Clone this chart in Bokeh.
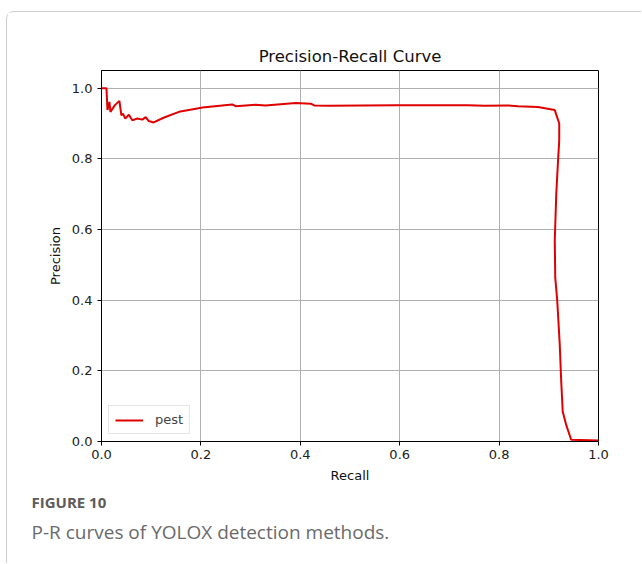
from bokeh.plotting import figure
from bokeh.models import Range1d, FixedTicker, NumeralTickFormatter, Title, Legend, LegendItem
from bokeh.embed import file_html
from bokeh.resources import INLINE

# data
recall = [0.0, 0.01, 0.012, 0.016, 0.018, 0.027, 0.036, 0.040, 0.043, 0.048, 0.055, 0.062,
          0.072, 0.082, 0.089, 0.095, 0.105, 0.126, 0.156, 0.19, 0.203, 0.263, 0.27, 0.31,
          0.33, 0.391, 0.421, 0.428, 0.458, 0.593, 0.737, 0.771, 0.818, 0.838, 0.878, 0.912,
          0.921, 0.921, 0.919, 0.915, 0.912, 0.913, 0.917, 0.922, 0.925, 0.928, 0.935, 0.945, 1.0]
precision = [1.0, 1.0, 0.938, 0.961, 0.933, 0.952, 0.964, 0.923, 0.928, 0.914, 0.925, 0.909,
             0.914, 0.911, 0.918, 0.907, 0.903, 0.917, 0.933, 0.942, 0.945, 0.954, 0.949, 0.953,
             0.951, 0.958, 0.956, 0.951, 0.950, 0.952, 0.952, 0.950, 0.951, 0.949, 0.947, 0.938,
             0.90, 0.852, 0.805, 0.70, 0.568, 0.464, 0.398, 0.275, 0.170, 0.085, 0.047, 0.005, 0.003]
ticks = [0.0, 0.2, 0.4, 0.6, 0.8, 1.0]
series_name = "pest"
title_text = "Precision-Recall Curve"
x_label = "Recall"
y_label = "Precision"
fig_label = "FIGURE 10"
caption = "P-R curves of YOLOX detection methods."

FONT = "DejaVu Sans"

p = figure(width=635, height=552, output_backend="svg", toolbar_location=None,
           x_range=Range1d(0, 1.0), y_range=Range1d(0, 1.05),
           min_border_left=94, min_border_right=44, min_border_top=58, min_border_bottom=123)
p.margin = (11, 0, 0, 6)
p.styles = {"border-left": "1px solid #cdcdcd", "border-top": "1px solid #cdcdcd",
            "border-top-left-radius": "8px"}

p.title.text = title_text
p.title.text_font = FONT
p.title.text_font_size = "16.5px"
p.title.text_font_style = "normal"
p.title.align = "center"
p.title.text_color = "#111111"

for ax in (p.xaxis, p.yaxis):
    ax.ticker = FixedTicker(ticks=ticks)
    ax.formatter = NumeralTickFormatter(format="0.0")
    ax.major_label_text_font = FONT
    ax.major_label_text_font_size = "13px"
    ax.major_label_text_color = "#222222"
    ax.axis_label_text_font = FONT
    ax.axis_label_text_font_size = "13px"
    ax.axis_label_text_font_style = "normal"
    ax.axis_label_text_color = "#111111"
    ax.axis_line_color = "black"
    ax.major_tick_line_color = "black"
    ax.major_tick_in = 0
    ax.major_tick_out = 4
    ax.minor_tick_line_color = None
p.xaxis.axis_label = x_label
p.yaxis.axis_label = y_label
p.xaxis.major_label_standoff = 4
p.yaxis.major_label_standoff = 5
p.xaxis.axis_label_standoff = 6
p.yaxis.axis_label_standoff = 6

p.grid.grid_line_color = "#b0b0b0"
p.grid.grid_line_width = 1
p.outline_line_color = "black"
p.outline_line_alpha = 1.0

r = p.line(recall, precision, line_color="#e00000", line_width=2)

legend = Legend(items=[LegendItem(label=series_name, renderers=[r])], location="bottom_left")
legend.margin = 7
legend.padding = 6
legend.glyph_width = 28
legend.glyph_height = 12
legend.label_height = 12
legend.label_standoff = 12
legend.label_text_font = FONT
legend.label_text_font_size = "13px"
legend.border_line_color = "#cccccc"
legend.background_fill_alpha = 0.8
p.add_layout(legend)

# caption below the chart
t1 = Title(text=fig_label, align="left", offset=-70, text_font="Open Sans",
           text_font_size="15px", text_font_style="bold", text_color="#5c5c5c", standoff=9)
t2 = Title(text=caption, align="left", offset=-70, text_font="Open Sans",
           text_font_size="19px", text_font_style="normal", text_color="#6a6a6a", standoff=0)
p.add_layout(t1, "below")
p.add_layout(t2, "below")

open("out.html", "w").write(file_html(p, INLINE))
